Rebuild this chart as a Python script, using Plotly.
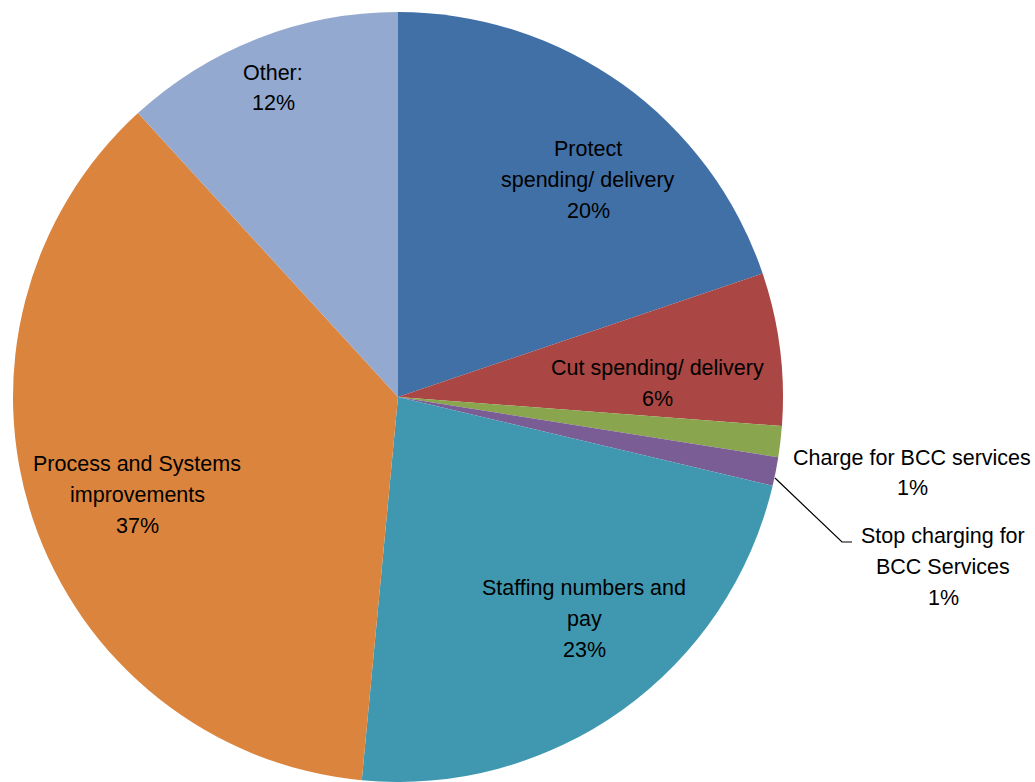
import plotly.graph_objects as go

# Share of proposals by category (clockwise from 12 o'clock)
categories = [
    "Protect spending/ delivery",
    "Cut spending/ delivery",
    "Charge for BCC services",
    "Stop charging for BCC Services",
    "Staffing numbers and pay",
    "Process and Systems improvements",
    "Other:",
]
values = [19.8, 6.4, 1.3, 1.2, 22.8, 36.7, 11.8]
colors = ["#4170A6", "#AA4643", "#89A54E", "#7B5D96", "#3F98AF", "#DB843D", "#93A9CF"]

# Line breaks used in the slice labels
label_lines = [
    ["Protect", "spending/ delivery"],
    ["Cut spending/ delivery"],
    ["Charge for BCC services"],
    ["Stop charging for", "BCC Services"],
    ["Staffing numbers and", "pay"],
    ["Process and Systems", "improvements"],
    ["Other:"],
]

W, H = 1035, 782
cx, cy, r = 398, 397, 385

fig = go.Figure(
    go.Pie(
        labels=categories,
        values=values,
        sort=False,
        direction="clockwise",
        rotation=0,
        marker=dict(colors=colors, line=dict(width=0)),
        textinfo="none",
        hoverinfo="label+percent",
        showlegend=False,
        domain=dict(x=[(cx - r) / W, (cx + r) / W], y=[(H - cy - r) / H, (H - cy + r) / H]),
    )
)

# Label block centres in pixels
label_pos = [
    (588, 180),
    (657, 383),
    (912, 473),
    (943, 567),
    (584, 619),
    (137, 495),
    (273, 88),
]
pitch = 31

total = sum(values)
annotations = []
for lines, v, (px, py) in zip(label_lines, values, label_pos):
    pct = round(100 * v / total)
    all_lines = lines + [f"{pct}%"]
    n = len(all_lines)
    for i, line in enumerate(all_lines):
        ly = py + (i - (n - 1) / 2) * pitch
        annotations.append(
            dict(
                x=px / W,
                y=1 - ly / H,
                xref="paper",
                yref="paper",
                text=line,
                showarrow=False,
                xanchor="center",
                yanchor="middle",
                align="center",
                font=dict(family="Liberation Sans, Arial, sans-serif", size=21.5, color="#000000"),
            )
        )

# Leader line to the small purple slice
def to_paper(px, py):
    return px / W, 1 - py / H

p0 = to_paper(775, 478)
p1 = to_paper(842, 542)
p2 = to_paper(852, 542)
shapes = [
    dict(
        type="path",
        xref="paper",
        yref="paper",
        path=f"M {p0[0]},{p0[1]} L {p1[0]},{p1[1]} L {p2[0]},{p2[1]}",
        line=dict(color="#000000", width=1.2),
    )
]

fig.update_layout(
    width=W,
    height=H,
    margin=dict(l=0, r=0, t=0, b=0),
    paper_bgcolor="#FFFFFF",
    plot_bgcolor="#FFFFFF",
    annotations=annotations,
    shapes=shapes,
)

fig.write_html("out.html")
